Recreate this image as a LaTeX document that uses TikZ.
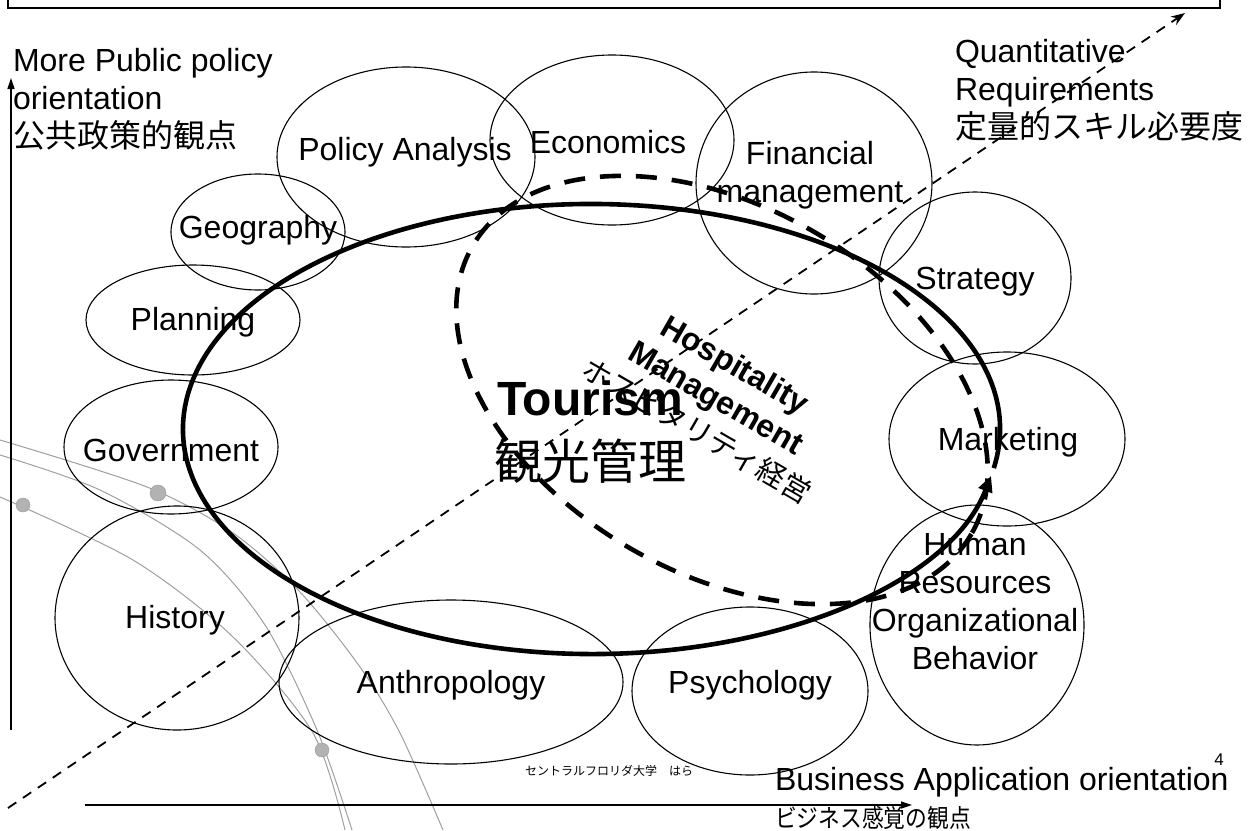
\documentclass[tikz,border=0pt]{standalone}
\usepackage{fontspec}
\usepackage{graphicx}
\setmainfont{Liberation Sans}
\newfontfamily\jpfont{Noto Sans CJK JP}
\usetikzlibrary{arrows.meta}

\begin{document}
\begin{tikzpicture}[x=1pt,y=-1pt,
  every node/.style={inner sep=0pt, outer sep=0pt},
  lbl/.style={font=\fontsize{32}{38}\selectfont, align=center},
  field/.style={draw=black, line width=1.1pt},
  orbit/.style={draw=gray!75, line width=1.0pt},
  orbitdot/.style={fill=gray!60, draw=gray!80, line width=0.4pt},
  axis/.style={draw=black, line width=1.3pt, -{Triangle[length=11pt,width=7pt]}},
  diag/.style={draw=black, line width=1.8pt, dash pattern=on 10pt off 8pt, -{Stealth[length=14pt,width=10pt]}},
  tourline/.style={draw=black, line width=4.6pt, -{Triangle[length=16pt,width=14pt]}},
  hospline/.style={draw=black, line width=4.6pt, dash pattern=on 21pt off 15pt}
]
\useasboundingbox (0,0) rectangle (1250,830);

% title frame cut by the top edge
\draw[line width=1.6pt] (8,-20) rectangle (1220,8);

% decorative orbit lines at the lower left
\draw[orbit] plot[smooth] coordinates {(0,440) (147,487) (233,533) (300,592) (360,667) (400,733) (443,830)};
\draw[orbit] plot[smooth] coordinates {(0,455) (100,490) (200,550) (265,625) (317,730) (352,830)};
\draw[orbit] plot[smooth] coordinates {(0,497) (133,560) (233,637) (313,733) (345,830)};
\fill[orbitdot] (158,493) circle[radius=8];
\fill[orbitdot] (23,505) circle[radius=7];
\fill[orbitdot] (322,750) circle[radius=7];

% axes
\coordinate (vbot) at (11,730);
\coordinate (vtop) at (11,78);
\coordinate (hleft) at (85,805);
\coordinate (hright) at (912,805);
\draw[axis] (vbot) -- (vtop);
\draw[axis] (hleft) -- (hright);

% discipline fields
\coordinate (cpa) at (406,157);
\coordinate (cec) at (612,140);
\coordinate (cfm) at (814,183);
\coordinate (cge) at (258,232);
\coordinate (cpl) at (193,320);
\coordinate (cgo) at (171,447);
\coordinate (chi) at (177,618);
\coordinate (can) at (451,682);
\coordinate (cps) at (750,691);
\coordinate (chr) at (977,625);
\coordinate (cma) at (1007,439);
\coordinate (cst) at (975,278);

\draw[field] (cpa) ellipse[x radius=129, y radius=90];
\draw[field] (cec) ellipse[x radius=122, y radius=85];
\draw[field] (cfm) ellipse[x radius=118, y radius=111];
\draw[field] (cge) ellipse[x radius=87, y radius=58];
\draw[field] (cpl) ellipse[x radius=107, y radius=55];
\draw[field] (cgo) ellipse[x radius=107, y radius=67];
\draw[field] (chi) ellipse[x radius=122, y radius=112];
\draw[field] (can) ellipse[x radius=172, y radius=82];
\draw[field] (cps) ellipse[x radius=118, y radius=84];
\draw[field] (chr) ellipse[x radius=107, y radius=120];
\draw[field] (cma) ellipse[x radius=118, y radius=87];
\draw[field] (cst) ellipse[x radius=96, y radius=86];

\node[lbl] (pa) at (405,152) {Policy Analysis};
\node[lbl] (ec) at (608,142) {Economics};
\node[lbl] (fm) at (810,175) {Financial\\management};
\node[lbl] (ge) at (258,230) {Geography};
\node[lbl] (pl) at (193,322) {Planning};
\node[lbl] (go) at (171,450) {Government};
\node[lbl] (hi) at (175,620) {History};
\node[lbl] (an) at (451,685) {Anthropology};
\node[lbl] (ps) at (750,685) {Psychology};
\node[lbl] (st) at (975,282) {Strategy};
\node[lbl] (ma) at (1008,442) {Marketing};
\node[lbl] (hr) at (975,602) {Human\\Resources\\Organizational\\Behavior};

% axis captions (base anchor sits on the last line)
\node[lbl, align=left, anchor=base west] (pub) at (13,147) {More Public policy\\orientation\\{\jpfont 公共政策的観点}};
\node[lbl, align=left, anchor=base west] (quant) at (955,138) {Quantitative\\Requirements\\{\jpfont 定量的スキル必要度}};
\node[lbl, anchor=base west] (bus) at (775,790) {Business Application orientation};
\node[anchor=base west] (busjp) at (775,827) {\scalebox{0.87}[1]{\fontsize{25}{30}\selectfont\jpfont ビジネス感覚の観点}};
\node[anchor=west, font=\fontsize{12}{14}\selectfont] (ucf) at (525,771) {\jpfont セントラルフロリダ大学　はら};
\node[font=\fontsize{17}{20}\selectfont] (pg) at (1219,760) {4};

% quantitative direction
\coordinate (dstart) at (8,808);
\coordinate (dend) at (1185,13);
\draw[diag] (dstart) -- (dend);

% hospitality management (dashed) and tourism (solid) domains
\draw[hospline, rotate around={-30:(722,390)}] (722,390) ellipse[x radius=288, y radius=183];
\coordinate (tc) at (591.5,429);
\draw[tourline] (tc) ++(10:408.5 and 225) arc[start angle=10, end angle=-348, x radius=408.5, y radius=225];

\node[font=\bfseries\fontsize{48}{64}\selectfont, align=center] (tour) at (590,432) {Tourism\\{\jpfont\mdseries 観光管理}};
\node[rotate=-30, font=\bfseries\fontsize{32}{38}\selectfont, align=center] (hosp) at (716,398) {Hospitality\\Management\\{\jpfont\mdseries\fontsize{29}{38}\selectfont ホスピタリティ経営}};
\end{tikzpicture}
\end{document}
